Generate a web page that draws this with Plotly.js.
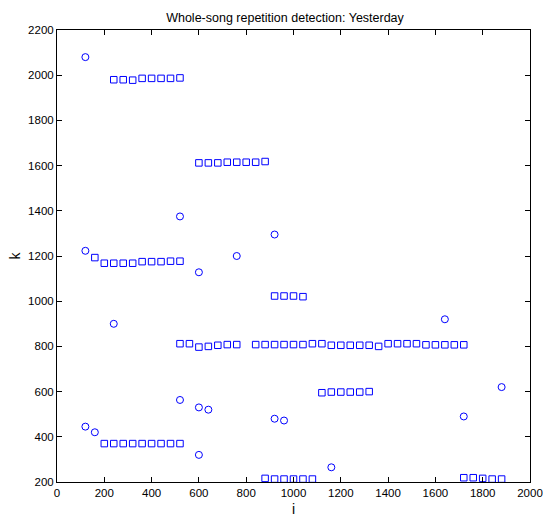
<!DOCTYPE html>
<html>
<head>
<meta charset="utf-8">
<script src="https://cdn.plot.ly/plotly-3.0.1.min.js"></script>
<style>html,body{margin:0;padding:0;background:#fff;}#chart{width:543px;height:517px;}</style>
</head>
<body>
<div id="chart"></div>
<script>
// Circle markers (isolated detections)
const circleI = [120, 120, 240, 520, 600, 760, 920, 1640, 520, 600, 640, 920, 960, 1720, 1880, 120, 160, 600, 1160];
const circleK = [2080, 1223, 900, 1375, 1128, 1200, 1295, 920, 563, 530, 520, 480, 472, 490, 620, 445, 420, 320, 265];

// Square markers (repetition runs)
const squareI = [
  240, 280, 320, 360, 400, 440, 480, 520,
  600, 640, 680, 720, 760, 800, 840, 880,
  160, 200, 240, 280, 320, 360, 400, 440, 480, 520,
  920, 960, 1000, 1040,
  520, 560, 600, 640, 680, 720, 760, 840, 880, 920, 960, 1000, 1040, 1080, 1120,
  1160, 1200, 1240, 1280, 1320, 1360, 1400, 1440, 1480, 1520, 1560, 1600, 1640, 1680, 1720,
  1120, 1160, 1200, 1240, 1280, 1320,
  200, 240, 280, 320, 360, 400, 440, 480, 520,
  880, 920, 960, 1000, 1040, 1080,
  1720, 1760, 1800, 1840, 1880
];
const squareK = [
  1980, 1980, 1978, 1986, 1986, 1986, 1986, 1988,
  1612, 1612, 1612, 1615, 1615, 1615, 1615, 1618,
  1193, 1168, 1168, 1168, 1168, 1175, 1175, 1175, 1177, 1177,
  1023, 1023, 1023, 1020,
  812, 812, 797, 800, 805, 808, 808, 808, 808, 808, 808, 808, 808, 812, 812,
  805, 805, 805, 805, 805, 800, 812, 812, 812, 812, 807, 807, 807, 807, 807,
  595, 598, 598, 598, 598, 600,
  370, 370, 370, 370, 370, 370, 370, 370, 370,
  216, 213, 213, 213, 213, 213,
  219, 219, 216, 213, 213
];

const xTicks = [0, 200, 400, 600, 800, 1000, 1200, 1400, 1600, 1800, 2000];
const yTicks = [200, 400, 600, 800, 1000, 1200, 1400, 1600, 1800, 2000, 2200];

const fam = 'Liberation Sans, Arial, sans-serif';
const font = {family: fam, size: 11.5, color: '#000'};

const traces = [
  {x: squareI, y: squareK, mode: 'markers', type: 'scatter', cliponaxis: false,
   marker: {symbol: 'square-open', size: 6.5, color: '#0000ff', line: {width: 1, color: '#0000ff'}}},
  {x: circleI, y: circleK, mode: 'markers', type: 'scatter', cliponaxis: false,
   marker: {symbol: 'circle-open', size: 7, color: '#0000ff', line: {width: 1, color: '#0000ff'}}}
];

const axisCommon = {
  showgrid: false, zeroline: false, showline: true, linecolor: '#000', linewidth: 1,
  mirror: 'ticks', ticks: 'inside', ticklen: 5, tickcolor: '#000', tickwidth: 1,
  tickfont: font, ticklabeloverflow: 'allow'
};

const layout = {
  width: 543, height: 517,
  margin: {l: 57, r: 13, t: 30, b: 35},
  paper_bgcolor: '#fff', plot_bgcolor: '#fff',
  showlegend: false,
  font: font,
  title: {text: 'Whole-song repetition detection: Yesterday', font: {family: fam, size: 12.5, color: '#000'},
          x: 285 / 543, xanchor: 'center', xref: 'container', y: 1, yref: 'paper', yanchor: 'bottom', pad: {b: 8}},
  xaxis: Object.assign({}, axisCommon, {range: [0, 2000], tickvals: xTicks, ticktext: xTicks.map(String),
    title: {text: 'i', font: {family: fam, size: 14, color: '#000'}, standoff: 6}}),
  yaxis: Object.assign({}, axisCommon, {range: [200, 2200], tickvals: yTicks, ticktext: yTicks.map(String),
    title: {text: 'k', font: {family: fam, size: 14, color: '#000'}, standoff: 4}})
};

Plotly.newPlot('chart', traces, layout, {displayModeBar: false, staticPlot: true});
</script>
</body>
</html>
